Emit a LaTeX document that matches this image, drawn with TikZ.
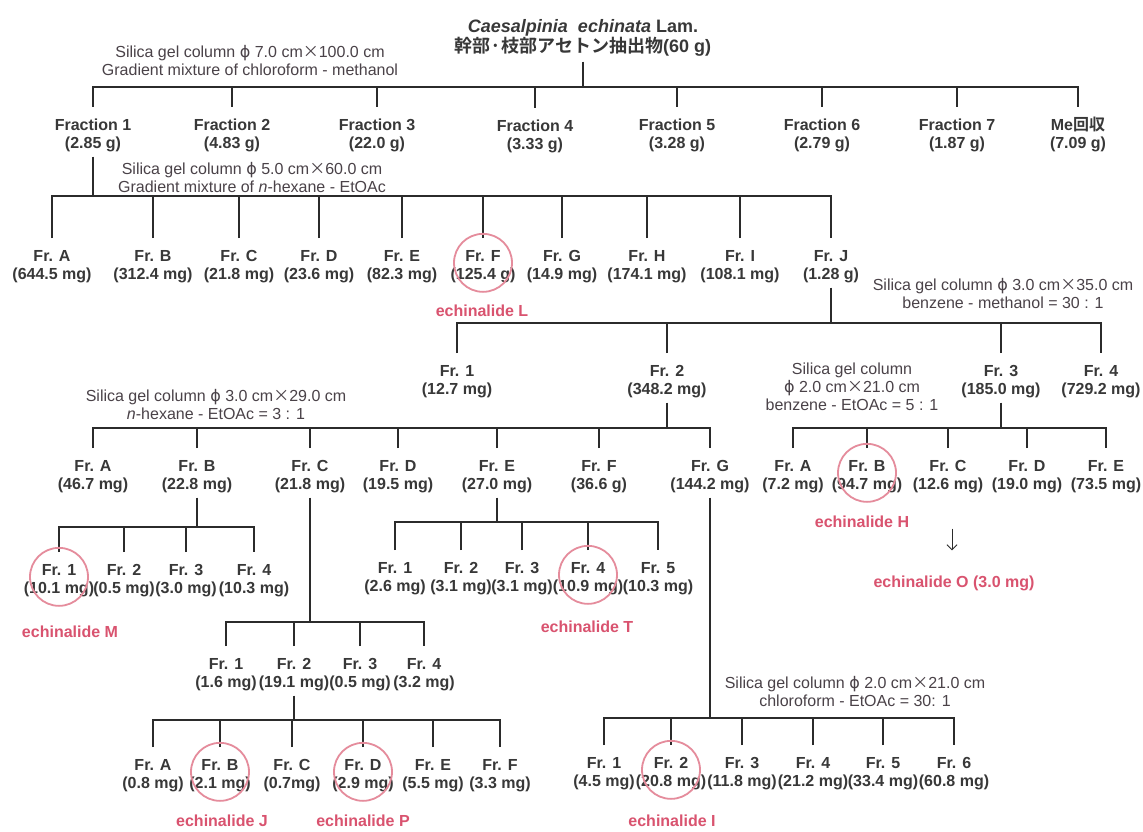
\documentclass[tikz,border=0pt]{standalone}
\usepackage{fontspec}
\setmainfont{Liberation Sans}
\newfontfamily\jpfont{Noto Sans CJK JP}[BoldFont={* Bold}]
\newfontfamily\symfont{DejaVu Sans}
\usetikzlibrary{arrows.meta,calc}

\definecolor{labgray}{HTML}{383838}
\definecolor{notegray}{HTML}{4A4248}
\definecolor{linegray}{HTML}{2B2B2B}
\definecolor{hitpink}{HTML}{D9536F}
\definecolor{ringpink}{HTML}{E58C9C}

\newcommand\labfont{\fontsize{16}{18}\selectfont\bfseries}
\newcommand\notefont{\fontsize{16}{18}\selectfont}
\newcommand\dia{{\symfont ϕ}}
\newcommand\by{{\jpfont ×}}
% two-line fraction label: name and yield; the struts fix the top and bottom of the box
\newcommand\fr[2]{\rule{0pt}{23.7pt}#1\\#2\rule[-7.6pt]{0pt}{7.6pt}}

\begin{document}
\begin{tikzpicture}[x=1pt,y=-1pt,
  frac/.style={anchor=north, align=center, inner sep=0pt, font=\labfont, text=labgray},
  note/.style={align=center, inner sep=0pt, font=\notefont, text=notegray},
  hit/.style={inner sep=0pt, font=\labfont, text=hitpink},
  ring/.style={draw=ringpink, line width=1.8pt},
  wire/.style={draw=linegray, line width=2.3pt},
  pointer/.style={draw=linegray, line width=0.9pt, -{Straight Barb[length=5pt,width=10pt]}},
]
\fill[white] (0,0) rectangle (1143,832);
\useasboundingbox (0,0) rectangle (1143,832);

% ---- starting material ----
\node[align=center, inner sep=0pt, font=\fontsize{18}{20}\selectfont\bfseries, text=labgray] (title) at (583,38)
  {\textit{Caesalpinia}\ \ \textit{echinata} Lam.\\{\jpfont 幹部·枝部アセトン抽出物}(60 g)};
\node[note] (nA) at (250,61) {Silica gel column \dia\ 7.0 cm\by100.0 cm\\Gradient mixture of chloroform - methanol};

% ---- first column: Fractions 1-7 ----
\node[frac] (F1) at (93,107) {\fr{Fraction 1}{(2.85 g)}};
\node[frac] (F2) at (232,107) {\fr{Fraction 2}{(4.83 g)}};
\node[frac] (F3) at (377,107) {\fr{Fraction 3}{(22.0 g)}};
\node[frac] (F4) at (535,108) {\fr{Fraction 4}{(3.33 g)}};
\node[frac] (F5) at (677,107) {\fr{Fraction 5}{(3.28 g)}};
\node[frac] (F6) at (822,107) {\fr{Fraction 6}{(2.79 g)}};
\node[frac] (F7) at (957,107) {\fr{Fraction 7}{(1.87 g)}};
\node[frac] (FMe) at (1078,107) {\fr{Me{\jpfont 回収}}{(7.09 g)}};

\coordinate (b0) at (583,87);
\draw[wire] ([yshift=-5pt]title.south) -- (b0);
\draw[wire] (F1.north) |- (b0) -| (FMe.north);
\foreach \n in {F2,F3,F4,F5,F6,F7} \draw[wire] (\n.north) -- (\n.north |- b0);

% ---- Fraction 1 ----
\node[note] (nB) at (252,177) {Silica gel column \dia\ 5.0 cm\by60.0 cm\\Gradient mixture of \textit{n}-hexane - EtOAc};
\node[frac] (aA) at (52,238) {\fr{Fr. A}{(644.5 mg)}};
\node[frac] (aB) at (153,238) {\fr{Fr. B}{(312.4 mg)}};
\node[frac] (aC) at (239,238) {\fr{Fr. C}{(21.8 mg)}};
\node[frac] (aD) at (319,238) {\fr{Fr. D}{(23.6 mg)}};
\node[frac] (aE) at (402,238) {\fr{Fr. E}{(82.3 mg)}};
\node[frac] (aF) at (483,238) {\fr{Fr. F}{(125.4 g)}};
\node[frac] (aG) at (562,238) {\fr{Fr. G}{(14.9 mg)}};
\node[frac] (aH) at (647,238) {\fr{Fr. H}{(174.1 mg)}};
\node[frac] (aI) at (740,238) {\fr{Fr. I}{(108.1 mg)}};
\node[frac] (aJ) at (831,238) {\fr{Fr. J}{(1.28 g)}};

\coordinate (b1) at (93,196);
\draw[wire] (F1.south) -- (b1);
\draw[wire] (aA.north) |- (b1) -| (aJ.north);
\foreach \n in {aB,aC,aD,aE,aF,aG,aH,aI} \draw[wire] (\n.north) -- (\n.north |- b1);

% ---- Fr. J ----
\node[note] (nC) at (1003,293) {Silica gel column \dia\ 3.0 cm\by35.0 cm\\benzene - methanol = 30 : 1};
\node[frac] (bF1) at (457,353) {\fr{Fr. 1}{(12.7 mg)}};
\node[frac] (bF2) at (667,353) {\fr{Fr. 2}{(348.2 mg)}};
\node[frac] (bF3) at (1001,353) {\fr{Fr. 3}{(185.0 mg)}};
\node[frac] (bF4) at (1101,353) {\fr{Fr. 4}{(729.2 mg)}};

\coordinate (b2) at (831,323);
\draw[wire] (aJ.south) -- (b2);
\draw[wire] (bF1.north) |- (b2) -| (bF4.north);
\foreach \n in {bF2,bF3} \draw[wire] (\n.north) -- (\n.north |- b2);

% ---- Fr. 2 of Fr. J ----
\node[note] (nD) at (216,404) {Silica gel column \dia\ 3.0 cm\by29.0 cm\\\textit{n}-hexane - EtOAc = 3 : 1};
\node[frac] (cA) at (93,448) {\fr{Fr. A}{(46.7 mg)}};
\node[frac] (cB) at (197,448) {\fr{Fr. B}{(22.8 mg)}};
\node[frac] (cC) at (310,448) {\fr{Fr. C}{(21.8 mg)}};
\node[frac] (cD) at (398,448) {\fr{Fr. D}{(19.5 mg)}};
\node[frac] (cE) at (497,448) {\fr{Fr. E}{(27.0 mg)}};
\node[frac] (cF) at (599,448) {\fr{Fr. F}{(36.6 g)}};
\node[frac] (cG) at (710,448) {\fr{Fr. G}{(144.2 mg)}};

\coordinate (b3) at (667,428);
\draw[wire] (bF2.south) -- (b3);
\draw[wire] (cA.north) |- (b3) -| (cG.north);
\foreach \n in {cB,cC,cD,cE,cF} \draw[wire] (\n.north) -- (\n.north |- b3);

% ---- Fr. 3 of Fr. J ----
\node[note] (nE) at (852,387) {Silica gel column\\\dia\ 2.0 cm\by21.0 cm\\benzene - EtOAc = 5 : 1};
\node[frac] (rA) at (793,448) {\fr{Fr. A}{(7.2 mg)}};
\node[frac] (rB) at (867,448) {\fr{Fr. B}{(94.7 mg)}};
\node[frac] (rC) at (948,448) {\fr{Fr. C}{(12.6 mg)}};
\node[frac] (rD) at (1027,448) {\fr{Fr. D}{(19.0 mg)}};
\node[frac] (rE) at (1106,448) {\fr{Fr. E}{(73.5 mg)}};

\coordinate (bR) at (1001,428);
\draw[wire] (bF3.south) -- (bR);
\draw[wire] (rA.north) |- (bR) -| (rE.north);
\foreach \n in {rB,rC,rD} \draw[wire] (\n.north) -- (\n.north |- bR);

\node[hit] (echH) at (862,522) {echinalide H};
\node[hit] (echO) at (954,583) {echinalide O (3.0 mg)};
\draw[pointer] ($(rC.south)+(4,31)$) -- ($(echO.north)+(-2,-25)$);

% ---- Fr. B ----
\node[frac] (dF1) at (59,552) {\fr{Fr. 1}{(10.1 mg)}};
\node[frac] (dF2) at (124,552) {\fr{Fr. 2}{(0.5 mg)}};
\node[frac] (dF3) at (186,552) {\fr{Fr. 3}{(3.0 mg)}};
\node[frac] (dF4) at (254,552) {\fr{Fr. 4}{(10.3 mg)}};

\coordinate (bB) at (197,527);
\draw[wire] (cB.south) -- (bB);
\draw[wire] (dF1.north) |- (bB) -| (dF4.north);
\foreach \n in {dF2,dF3} \draw[wire] (\n.north) -- (\n.north |- bB);

% ---- Fr. E ----
\node[frac] (eF1) at (395,550) {\fr{Fr. 1}{(2.6 mg)}};
\node[frac] (eF2) at (461,550) {\fr{Fr. 2}{(3.1 mg)}};
\node[frac] (eF3) at (522,550) {\fr{Fr. 3}{(3.1 mg)}};
\node[frac] (eF4) at (588,550) {\fr{Fr. 4}{(10.9 mg)}};
\node[frac] (eF5) at (658,550) {\fr{Fr. 5}{(10.3 mg)}};

\coordinate (bE) at (497,522);
\draw[wire] (cE.south) -- (bE);
\draw[wire] (eF1.north) |- (bE) -| (eF5.north);
\foreach \n in {eF2,eF3,eF4} \draw[wire] (\n.north) -- (\n.north |- bE);

% ---- Fr. C ----
\node[frac] (hF1) at (226,646) {\fr{Fr. 1}{(1.6 mg)}};
\node[frac] (hF2) at (294,646) {\fr{Fr. 2}{(19.1 mg)}};
\node[frac] (hF3) at (360,646) {\fr{Fr. 3}{(0.5 mg)}};
\node[frac] (hF4) at (424,646) {\fr{Fr. 4}{(3.2 mg)}};

\coordinate (bC) at (310,622);
\draw[wire] (cC.south) -- (bC);
\draw[wire] (hF1.north) |- (bC) -| (hF4.north);
\foreach \n in {hF2,hF3} \draw[wire] (\n.north) -- (\n.north |- bC);

% ---- Fr. 2 of Fr. C ----
\node[frac] (kA) at (153,747) {\fr{Fr. A}{(0.8 mg)}};
\node[frac] (kB) at (220,747) {\fr{Fr. B}{(2.1 mg)}};
\node[frac] (kC) at (292,747) {\fr{Fr. C}{(0.7mg)}};
\node[frac] (kD) at (363,747) {\fr{Fr. D}{(2.9 mg)}};
\node[frac] (kE) at (433,747) {\fr{Fr. E}{(5.5 mg)}};
\node[frac] (kF) at (500,747) {\fr{Fr. F}{(3.3 mg)}};

\coordinate (bK) at (294,720);
\draw[wire] (hF2.south) -- (bK);
\draw[wire] (kA.north) |- (bK) -| (kF.north);
\foreach \n in {kB,kC,kD,kE} \draw[wire] (\n.north) -- (\n.north |- bK);

% ---- Fr. G ----
\node[note] (nG) at (855,691) {Silica gel column \dia\ 2.0 cm\by21.0 cm\\chloroform - EtOAc = 30: 1};
\node[frac] (gF1) at (604,745) {\fr{Fr. 1}{(4.5 mg)}};
\node[frac] (gF2) at (671,745) {\fr{Fr. 2}{(20.8 mg)}};
\node[frac] (gF3) at (742,745) {\fr{Fr. 3}{(11.8 mg)}};
\node[frac] (gF4) at (813,745) {\fr{Fr. 4}{(21.2 mg)}};
\node[frac] (gF5) at (883,745) {\fr{Fr. 5}{(33.4 mg)}};
\node[frac] (gF6) at (954,745) {\fr{Fr. 6}{(60.8 mg)}};

\coordinate (bG) at (710,718);
\draw[wire] (cG.south) -- (bG);
\draw[wire] (gF1.north) |- (bG) -| (gF6.north);
\foreach \n in {gF2,gF3,gF4,gF5} \draw[wire] (\n.north) -- (\n.north |- bG);

% ---- isolated compounds ----
\foreach \n in {aF,rB,dF1,eF4,kB,kD,gF2} \draw[ring] (\n.center) circle[radius=29pt];
\node[hit] (echL) at (482,311) {echinalide L};
\node[hit] (echM) at (70,632) {echinalide M};
\node[hit] (echT) at (587,627) {echinalide T};
\node[hit] (echJ) at (222,821) {echinalide J};
\node[hit] (echP) at (363,821) {echinalide P};
\node[hit] (echI) at (672,821) {echinalide I};
\end{tikzpicture}
\end{document}
